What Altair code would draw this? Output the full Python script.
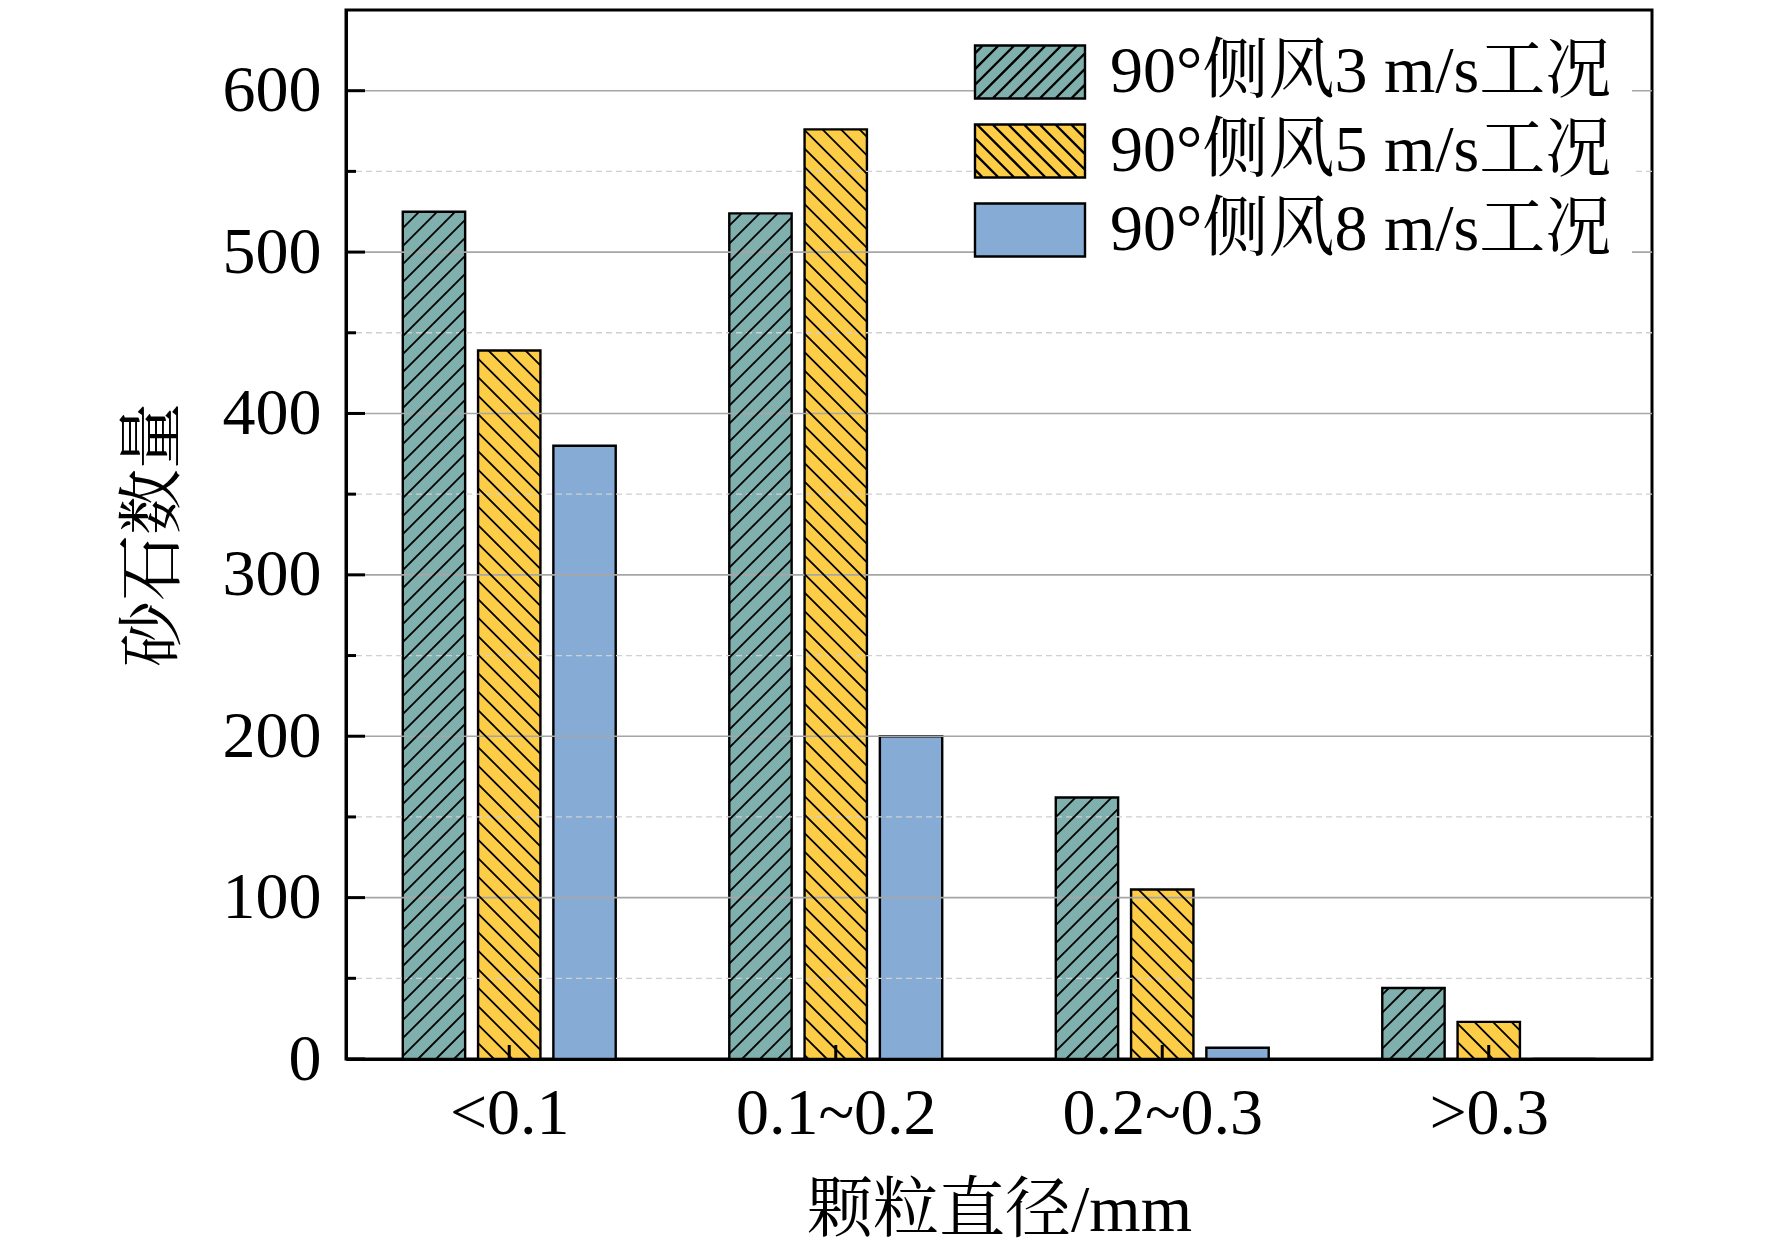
import altair as alt
import pandas as pd
import math

# ---------------- data ----------------
categories = ["<0.1", "0.1~0.2", "0.2~0.3", ">0.3"]
series = ["90°侧风3 m/s工况", "90°侧风5 m/s工况", "90°侧风8 m/s工况"]
values_3ms = [525, 524, 162, 44]
values_5ms = [439, 576, 105, 23]
values_8ms = [380, 200, 7, 0]
y_major_ticks = [0, 100, 200, 300, 400, 500, 600]
y_minor_ticks = [50, 150, 250, 350, 450, 550]

x_title = "颗粒直径/mm"
y_title = "砂石数量"

# ---------------- style ----------------
colors = ["#7FB0AD", "#FDCD47", "#86ACD6"]
outline = ["black", "black", "black"]
hatch_kind = ["/", "\\", None]
hatch_gap_px = [18.0, 18.5, None]
FONT = "Times New Roman, Liberation Serif, Noto Serif CJK SC, Noto Sans CJK SC"
FS = 66

W, H = 1306, 1049
Y_MAX = 650
X_MIN, X_MAX = -0.5, 3.5
kx = W / (X_MAX - X_MIN)
ky = H / Y_MAX
BAR_W = 0.191
BAR_STEP = 0.2306

rows = []
for j, (s, vals) in enumerate(zip(series, [values_3ms, values_5ms, values_8ms])):
    for i, (c, v) in enumerate(zip(categories, vals)):
        xc = i + (j - 1) * BAR_STEP
        rows.append(dict(category=c, series=s, sidx=j, value=v,
                         x1=xc - BAR_W / 2, x2=xc + BAR_W / 2))
bars_df = pd.DataFrame(rows)

# hatch segments derived from each bar's own geometry
segs = []
for r in rows:
    kind = hatch_kind[r["sidx"]]
    if kind is None or r["value"] <= 0:
        continue
    gap = hatch_gap_px[r["sidx"]]
    X1 = (r["x1"] - X_MIN) * kx
    X2 = (r["x2"] - X_MIN) * kx
    Yt = r["value"] * ky
    if kind == "/":
        c = math.floor((X1 - Yt) / gap) * gap
        while c <= X2:
            lo, hi = max(X1, c), min(X2, c + Yt)
            if hi - lo > 0.5:
                segs.append((lo, lo - c, hi, hi - c))
            c += gap
    else:
        c = math.floor(X1 / gap) * gap
        while c <= X2 + Yt:
            lo, hi = max(X1, c - Yt), min(X2, c)
            if hi - lo > 0.5:
                segs.append((lo, c - lo, hi, c - hi))
            c += gap
hatch_df = pd.DataFrame(
    [dict(xa=a / kx + X_MIN, ya=b / ky, xb=cc / kx + X_MIN, yb=d / ky) for a, b, cc, d in segs]
)

# legend swatch shapes (rectangle + hatch), in symbol units (1 unit = 27.5 px)
SW_HALF_W, SW_HALF_H, SW_GAP = 2.0, 0.964, 0.571


def legend_path(kind, w=SW_HALF_W, h=SW_HALF_H, gap=SW_GAP):
    p = f"M{-w},{-h}L{w},{-h}L{w},{h}L{-w},{h}Z"
    if kind is None:
        return p
    c = -w - h + gap / 2
    while c < w + h:
        lo, hi = max(-w, c - h), min(w, c + h)
        if hi - lo > 0.04:
            if kind == "/":
                p += f"M{lo:.3f},{c - lo:.3f}L{hi:.3f},{c - hi:.3f}"
            else:
                p += f"M{lo:.3f},{lo - c:.3f}L{hi:.3f},{hi - c:.3f}"
        c += gap
    return p


legend_paths = [legend_path(k) for k in hatch_kind]
legend_df = pd.DataFrame({"series": series})

major_df = pd.DataFrame({"v": y_major_ticks})
minor_df = pd.DataFrame({"v": y_minor_ticks})
xtick_df = pd.DataFrame({"pos": list(range(len(categories))), "category": categories})

xscale = alt.Scale(domain=[X_MIN, X_MAX], nice=False, zero=False)
yscale = alt.Scale(domain=[0, Y_MAX], nice=False)
fill_scale = alt.Scale(domain=series, range=colors)
stroke_scale = alt.Scale(domain=series, range=outline)
shape_scale = alt.Scale(domain=series, range=legend_paths)

label_expr = "[" + ",".join("'" + c + "'" for c in categories) + "][datum.value]"

x_axis = alt.Axis(values=list(range(len(categories))), labelExpr=label_expr, title=x_title,
                  grid=False, ticks=False, domainColor="black", domainWidth=3,
                  labelFont=FONT, labelFontSize=FS, labelColor="black", labelPadding=22,
                  labelLimit=1000, titleFont=FONT, titleFontSize=FS,
                  titleFontWeight="normal", titleColor="black", titleY=151,
                  titleBaseline="middle", zindex=1)
y_axis = alt.Axis(values=y_major_ticks, title=y_title, grid=False, ticks=False,
                  domainColor="black", domainWidth=3, labelFont=FONT, labelFontSize=FS,
                  labelColor="black", labelPadding=25, titleFont=FONT, titleFontSize=FS,
                  titleFontWeight="normal", titleColor="black", titleAngle=270,
                  titleX=-193, titleY=H / 2, titleAlign="center", titleBaseline="middle",
                  zindex=1)

legend = alt.Legend(title=None, orient="none", legendX=631, legendY=9,
                    symbolSize=27.5 ** 2 * 4, symbolStrokeWidth=2.4,
                    labelFont=FONT, labelFontSize=FS, labelColor="black", labelLimit=1200,
                    labelOffset=47, rowPadding=13, padding=20, fillColor="white")

bars = alt.Chart(bars_df).mark_rect(stroke="black", strokeWidth=2.4).encode(
    x=alt.X("x1:Q", scale=xscale, axis=x_axis),
    x2="x2:Q",
    y=alt.Y("value:Q", scale=yscale, axis=y_axis),
    y2=alt.datum(0),
    fill=alt.Fill("series:N", scale=fill_scale, legend=legend),
)

minor_grid = alt.Chart(minor_df).mark_rule(color="#D0D0D0", strokeWidth=1.3, strokeDash=[6, 4]).encode(
    y=alt.Y("v:Q", scale=yscale))
major_grid = alt.Chart(major_df).mark_rule(color="#A6A6A6", strokeWidth=1.6).encode(
    y=alt.Y("v:Q", scale=yscale))

hatch = alt.Chart(hatch_df).mark_rule(color="black", strokeWidth=1.8).encode(
    x=alt.X("xa:Q", scale=xscale),
    x2="xb:Q",
    y=alt.Y("ya:Q", scale=yscale),
    y2="yb:Q",
)

ytick_major = alt.Chart(major_df).mark_rule(color="black", strokeWidth=3).encode(
    y=alt.Y("v:Q", scale=yscale), x=alt.value(0), x2=alt.value(19))
ytick_minor = alt.Chart(minor_df).mark_rule(color="black", strokeWidth=3).encode(
    y=alt.Y("v:Q", scale=yscale), x=alt.value(0), x2=alt.value(10))
xtick = alt.Chart(xtick_df).mark_rule(color="black", strokeWidth=3).encode(
    x=alt.X("pos:Q", scale=xscale), y=alt.value(H), y2=alt.value(H - 14))

legend_layer = alt.Chart(legend_df).mark_point(filled=True, strokeWidth=2.4,
                                               fillOpacity=1, size=1).encode(
    fill=alt.Fill("series:N", scale=fill_scale, legend=legend),
    stroke=alt.Stroke("series:N", scale=stroke_scale, legend=legend),
    shape=alt.Shape("series:N", scale=shape_scale, legend=legend),
    x=alt.value(-5000), y=alt.value(-5000),
)

chart = alt.layer(bars, minor_grid, major_grid, hatch, ytick_major, ytick_minor, xtick,
                  legend_layer).properties(
    width=W, height=H,
    autosize=alt.AutoSizeParams(type="none"),
    padding={"left": 338, "top": 2, "right": 112, "bottom": 185},
    background="white",
).configure_view(stroke="black", strokeWidth=3)

chart.save("out.html", embed_options={"renderer": "svg", "actions": False})
